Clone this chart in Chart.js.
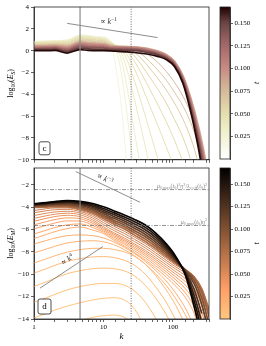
<!DOCTYPE html>
<html><head><meta charset="utf-8">
<script src="https://cdn.jsdelivr.net/npm/chart.js@4.4.1/dist/chart.umd.min.js"></script>
<style>
html,body{margin:0;padding:0;background:#fff;}
#wrap{position:relative;width:266px;height:346px;overflow:hidden;}
canvas{position:absolute;}
</style></head><body>
<div id="wrap">
<canvas id="cS" width="220" height="166" style="left:0;top:0"></canvas>
<canvas id="cM" width="220" height="186" style="left:0;top:160px"></canvas>
<canvas id="bS" width="56" height="166" style="left:210px;top:0"></canvas>
<canvas id="bM" width="56" height="186" style="left:210px;top:160px"></canvas>
</div>
<script>
// ---- data ----
var n = null;
var kMin = 1, kMax = 330, tMax = 0.168;

// panel c: log10(E_S) at these wavenumbers, one row per time
var kS = [1,1.5,2,3,4.6,6,8,10,12.5,15,18,22,28,36,46,60,80,105,140,180,230,290,340];
var tS = [0.020,0.026,0.031,0.036,0.041,0.046,0.051,0.056,0.062,0.068,0.076,0.086,0.098,0.111,0.124,0.138,0.152,0.166];
var esRows = [
  [0.85,0.90,0.93,1.00,1.45,1.40,1.30,1.25,0.90,-1.5,-5.0,-11.0,n,n,n,n,n,n,n,n,n,n,n],
  [0.82,0.87,0.90,0.96,1.41,1.36,1.26,1.21,0.87,0.20,-2.0,-6.0,-11.5,n,n,n,n,n,n,n,n,n,n],
  [0.80,0.85,0.88,0.93,1.37,1.32,1.22,1.18,0.84,0.40,-0.8,-3.5,-7.5,-11.5,n,n,n,n,n,n,n,n,n],
  [0.77,0.81,0.84,0.88,1.32,1.26,1.17,1.13,0.81,0.45,-0.2,-1.8,-4.5,-7.5,-10.5,n,n,n,n,n,n,n,n],
  [0.73,0.77,0.80,0.83,1.26,1.21,1.12,1.08,0.77,0.48,0.10,-0.9,-2.8,-5.0,-7.3,-9.8,-12.5,n,n,n,n,n,n],
  [0.70,0.74,0.77,0.78,1.21,1.15,1.07,1.03,0.73,0.48,0.22,-0.4,-1.7,-3.3,-5.0,-6.8,-8.8,-10.8,n,n,n,n,n],
  [0.65,0.69,0.72,0.72,1.14,1.08,1.00,0.96,0.69,0.47,0.30,-0.1,-1.0,-2.2,-3.5,-4.9,-6.5,-8.2,-10.2,n,n,n,n],
  [0.61,0.65,0.68,0.66,1.07,1.02,0.94,0.90,0.64,0.45,0.35,0.10,-0.5,-1.4,-2.4,-3.5,-4.8,-6.3,-8.0,-10.0,-12.5,n,n],
  [0.57,0.60,0.63,0.60,1.00,0.95,0.87,0.84,0.60,0.44,0.36,0.22,-0.15,-0.8,-1.6,-2.5,-3.6,-4.8,-6.3,-8.0,-10.2,-12.8,n],
  [0.53,0.56,0.58,0.54,0.94,0.88,0.81,0.78,0.55,0.42,0.37,0.30,0.08,-0.35,-1.0,-1.75,-2.7,-3.8,-5.1,-6.6,-8.6,-11.0,-13.5],
  [0.48,0.50,0.53,0.46,0.86,0.80,0.73,0.70,0.50,0.40,0.36,0.32,0.22,0.0,-0.45,-1.05,-1.9,-2.9,-4.2,-5.7,-7.7,-10.3,-13.0],
  [0.43,0.45,0.48,0.39,0.78,0.72,0.65,0.63,0.44,0.40,0.39,0.38,0.36,0.28,0.16,-0.02,-0.35,-0.95,-2.3,-4.3,-6.8,-9.8,-12.8],
  [0.37,0.39,0.41,0.30,0.68,0.62,0.56,0.54,0.38,0.35,0.34,0.33,0.30,0.22,0.10,-0.08,-0.42,-1.03,-2.42,-4.5,-7.1,-10.2,-13.3],
  [0.31,0.32,0.35,0.22,0.59,0.52,0.47,0.45,0.31,0.29,0.28,0.27,0.24,0.16,0.04,-0.15,-0.49,-1.11,-2.54,-4.7,-7.4,-10.6,-13.8],
  [0.24,0.25,0.27,0.12,0.48,0.41,0.36,0.35,0.24,0.22,0.21,0.20,0.17,0.09,-0.03,-0.22,-0.56,-1.19,-2.66,-4.9,-7.7,-11.0,-14.3],
  [0.17,0.18,0.20,0.02,0.37,0.30,0.26,0.25,0.16,0.14,0.13,0.12,0.09,0.01,-0.11,-0.30,-0.64,-1.27,-2.78,-5.1,-8.0,-11.4,-14.8],
  [0.09,0.09,0.11,-0.10,0.24,0.17,0.13,0.13,0.07,0.05,0.04,0.03,0.00,-0.08,-0.20,-0.39,-0.72,-1.35,-2.9,-5.35,-8.4,-11.9,n],
  [0.00,0.00,0.02,-0.22,0.10,0.03,0.00,0.00,-0.02,-0.05,-0.08,-0.12,-0.17,-0.25,-0.35,-0.52,-0.82,-1.45,-3.05,-5.6,-8.8,-12.5,n]
];

// panel d: log10(E_M)
var kM = [1,1.5,2,3,4.6,7,10,14,20,28,40,56,80,110,150,200,260,340];
var tM = [0.002,0.003,0.005,0.008,0.011,0.014,0.017,0.020,0.024,0.028,0.032,0.037,0.042,0.047,0.052,0.058,0.064,0.074,0.087,0.100,0.113,0.126,0.139,0.152,0.165];
var emRows = [
  [-15.6,-15.2,-14.9,-14.5,-14.15,-13.85,-13.7,-13.65,-13.85,-14.6,n,n,n,n,n,n,n,n],
  [-13.9,-13.5,-13.2,-12.85,-12.55,-12.3,-12.15,-12.1,-12.3,-13.1,-14.8,n,n,n,n,n,n,n],
  [-12.5,-12.1,-11.8,-11.4,-11.1,-10.9,-10.82,-10.82,-10.98,-11.5,-12.5,-13.9,-15.5,n,n,n,n,n],
  [-11.1,-10.68,-10.35,-9.95,-9.68,-9.5,-9.45,-9.5,-9.7,-10.15,-11.0,-12.1,-13.6,-15.2,n,n,n,n],
  [-9.9,-9.5,-9.2,-8.85,-8.6,-8.45,-8.42,-8.5,-8.75,-9.2,-10.0,-11.1,-12.5,-14.1,n,n,n,n],
  [-9.0,-8.62,-8.35,-8.02,-7.8,-7.68,-7.68,-7.78,-8.0,-8.4,-9.1,-10.1,-11.4,-12.8,-14.5,n,n,n],
  [-8.1,-7.75,-7.5,-7.2,-7.05,-7.0,-7.1,-7.35,-7.8,-8.35,-9.1,-9.95,-11.0,-12.2,-13.6,-15.2,n,n],
  [-7.3,-6.98,-6.76,-6.55,-6.48,-6.55,-6.75,-7.1,-7.6,-8.15,-8.85,-9.65,-10.6,-11.7,-13.0,-14.6,n,n],
  [-6.8,-6.45,-6.19,-5.92,-5.78,-6.05,-6.37,-6.95,-7.48,-8.07,-8.72,-9.44,-10.25,-11.08,-12.05,-13.45,-15.7,n],
  [-6.4,-6.06,-5.82,-5.58,-5.5,-5.82,-6.24,-6.8,-7.32,-7.9,-8.53,-9.23,-10.0,-10.78,-11.65,-12.9,-15.1,n],
  [-5.94,-5.63,-5.42,-5.23,-5.24,-5.62,-6.12,-6.66,-7.17,-7.73,-8.35,-9.03,-9.78,-10.5,-11.28,-12.4,-14.5,n],
  [-5.58,-5.3,-5.11,-4.96,-5.03,-5.45,-6.0,-6.53,-7.03,-7.58,-8.18,-8.84,-9.56,-10.25,-10.95,-11.95,-13.9,n],
  [-5.26,-5.0,-4.84,-4.73,-4.85,-5.3,-5.88,-6.4,-6.9,-7.43,-8.02,-8.66,-9.36,-10.0,-10.65,-11.55,-13.4,-16.0],
  [-5.0,-4.77,-4.63,-4.54,-4.68,-5.14,-5.75,-6.28,-6.76,-7.29,-7.86,-8.48,-9.16,-9.78,-10.38,-11.2,-12.9,-15.5],
  [-4.75,-4.54,-4.43,-4.37,-4.52,-4.98,-5.56,-6.08,-6.56,-7.08,-7.65,-8.27,-8.95,-9.55,-10.1,-10.85,-12.3,-14.7],
  [-4.5,-4.32,-4.23,-4.2,-4.38,-4.82,-5.38,-5.89,-6.36,-6.88,-7.45,-8.07,-8.76,-9.35,-9.87,-10.55,-11.8,-14.1],
  [-4.3,-4.14,-4.07,-4.07,-4.27,-4.68,-5.2,-5.7,-6.16,-6.68,-7.25,-7.88,-8.58,-9.18,-9.7,-10.3,-11.4,-13.6],
  [-4.03,-4.0,-3.97,-3.98,-4.18,-4.55,-5.03,-5.51,-5.96,-6.5,-7.07,-7.7,-8.42,-9.05,-9.6,-10.2,-11.3,-13.4],
  [-3.96,-3.92,-3.88,-3.88,-4.06,-4.41,-4.87,-5.34,-5.78,-6.3,-6.86,-7.5,-8.26,-8.96,-9.58,-10.3,-11.6,-14.0],
  [-3.9,-3.85,-3.8,-3.79,-3.95,-4.28,-4.72,-5.17,-5.6,-6.1,-6.65,-7.3,-8.1,-8.88,-9.6,-10.5,-12.1,-14.8],
  [-3.85,-3.79,-3.73,-3.71,-3.85,-4.15,-4.57,-5.0,-5.42,-5.9,-6.44,-7.1,-7.94,-8.8,-9.65,-10.8,-12.7,-15.6],
  [-3.8,-3.73,-3.66,-3.63,-3.75,-4.03,-4.42,-4.83,-5.24,-5.7,-6.23,-6.9,-7.78,-8.72,-9.75,-11.3,-13.5,n],
  [-3.76,-3.68,-3.6,-3.56,-3.66,-3.91,-4.27,-4.66,-5.06,-5.5,-6.02,-6.7,-7.62,-8.62,-9.85,-11.8,-14.3,n],
  [-3.73,-3.64,-3.55,-3.49,-3.57,-3.79,-4.12,-4.49,-4.88,-5.3,-5.81,-6.5,-7.45,-8.52,-9.95,-12.3,-15.0,n],
  [-3.7,-3.6,-3.5,-3.42,-3.48,-3.67,-3.97,-4.32,-4.7,-5.1,-5.6,-6.3,-7.28,-8.42,-10.05,-12.8,-15.8,n]
];

// reference marks
var kSolid = 4.6, kDotted = 25;
var hLinesM = [-2.43, -5.64];
var slopeS_k = [3, 60], slopeS_v = [2.5, 1.2];            // k^-1
var slopeM1_k = [4.0, 33.5], slopeM1_v = [-0.82, -3.56];  // k^-3
var slopeM2_k = [1.22, 9.8], slopeM2_v = [-11.24, -7.52]; // k^4

var yTicksS = [-10,-8,-6,-4,-2,0,2,4];
var yTicksM = [-14,-12,-10,-8,-6,-4,-2];
var cbTicks = [0.025,0.05,0.075,0.1,0.125,0.15];

// ---- colours ----
var pinkStops = [[0,[30,0,0]],[0.1,[105,66,66]],[0.2,[145,93,93]],[0.3,[176,114,114]],[0.4,[198,139,132]],
  [0.5,[208,171,147]],[0.6,[218,198,161]],[0.7,[228,222,174]],[0.8,[237,237,198]],[0.9,[246,246,228]],[1,[255,255,255]]];
function pinkR(s) {
  var x = Math.min(1, Math.max(0, 1 - s));
  for (var i = 1; i < pinkStops.length; i++) {
    if (x <= pinkStops[i][0]) {
      var a = pinkStops[i-1], b = pinkStops[i], f = (x - a[0]) / (b[0] - a[0]);
      var c = a[1].map(function(v, j){ return Math.round(v + f * (b[1][j] - v)); });
      return 'rgb(' + c.join(',') + ')';
    }
  }
  return '#fff';
}
function copperR(s) {
  var x = Math.min(1, Math.max(0, 1 - s));
  return 'rgb(' + Math.round(Math.min(255, 318.75 * x)) + ',' + Math.round(199.2 * x) + ',' + Math.round(126.9 * x) + ')';
}

// ---- little TeX-ish text helper: _{sub} ^{sup}, ~ toggles italic ----
var FAM = '"Liberation Serif", "DejaVu Serif", serif';
function parseTex(s) {
  var out = [], it = false, i = 0;
  while (i < s.length) {
    var c = s[i];
    if (c === '~') { it = !it; i++; continue; }
    if (c === '_' || c === '^') {
      var mode = c === '_' ? 1 : 2, body;
      i++;
      if (s[i] === '{') { var j = s.indexOf('}', i); body = s.slice(i + 1, j); i = j + 1; }
      else { body = s[i]; i++; }
      var bit = it, buf = '';
      for (var q = 0; q < body.length; q++) {
        if (body[q] === '~') { if (buf) out.push({t: buf, m: mode, it: bit}); buf = ''; bit = !bit; }
        else buf += body[q];
      }
      if (buf) out.push({t: buf, m: mode, it: bit});
      continue;
    }
    out.push({t: c, m: 0, it: it}); i++;
  }
  return out;
}
function drawTex(ctx, str, x, y, size, align, vmid, color) {
  var parts = parseTex(str), w = 0;
  function fontOf(p) { return (p.it ? 'italic ' : '') + (p.m ? size * 0.7 : size) + 'px ' + FAM; }
  parts.forEach(function(p){ ctx.font = fontOf(p); p.w = ctx.measureText(p.t).width; w += p.w; });
  var x0 = align === 'center' ? x - w / 2 : (align === 'right' ? x - w : x);
  var base = vmid ? y + size * 0.33 : y;
  ctx.fillStyle = color || '#000';
  ctx.textAlign = 'left';
  ctx.textBaseline = 'alphabetic';
  parts.forEach(function(p){
    ctx.font = fontOf(p);
    var dy = p.m === 1 ? size * 0.25 : (p.m === 2 ? -size * 0.38 : 0);
    ctx.fillText(p.t, x0, base + dy);
    x0 += p.w;
  });
}
function rotatedTex(ctx, str, x, y, ang, size, color) {
  ctx.save(); ctx.translate(x, y); ctx.rotate(ang);
  drawTex(ctx, str, 0, 0, size, 'center', true, color);
  ctx.restore();
}
function labelBox(ctx, x, y, w, h, txt) {
  ctx.save();
  ctx.beginPath();
  ctx.roundRect(x, y, w, h, 2);
  ctx.fillStyle = '#fff'; ctx.fill();
  ctx.lineWidth = 0.8; ctx.strokeStyle = '#222'; ctx.stroke();
  drawTex(ctx, txt, x + w / 2, y + h / 2, 9, 'center', true, '#000');
  ctx.restore();
}

Chart.defaults.font.family = FAM;
var tickFont = {family: FAM, size: 7};
function minusFmt(v) { return (v < 0 ? '\u2212' : '') + Math.abs(v); }
function isDecade(v) { var l = Math.log10(v); return Math.abs(l - Math.round(l)) < 1e-6; }

function lineSet(ks, vs, color, width, dash) {
  return {
    data: ks.map(function(k, j){ return {x: k, y: vs[j]}; }),
    borderColor: color, borderWidth: width, borderDash: dash || [],
    cubicInterpolationMode: 'default', tension: 0, order: -1
  };
}

function makeMain(id, ks, ts, rows, cmap, yr, yTicks, cfg) {
  var ds = rows.map(function(row, i){
    var pts = [];
    row.forEach(function(v, j){ if (v !== null) pts.push({x: ks[j], y: v}); });
    return {
      data: pts,
      borderColor: cmap(ts[i] / tMax),
      borderWidth: ts[i] > cfg.bandT ? 1.7 : 1.0,
      order: rows.length - i
    };
  });
  ds.push(lineSet([kSolid, kSolid], yr, '#8a8a8a', 1.2));
  ds.push(lineSet([kDotted, kDotted], yr, '#444', 0.8, [1, 1.5]));
  cfg.extra.forEach(function(e){ ds.push(e); });

  var decor = {
    id: 'decor' + id,
    afterDatasetsDraw: function(chart) {
      var ctx = chart.ctx, ca = chart.chartArea;
      ctx.save();
      ctx.lineWidth = 0.8; ctx.strokeStyle = '#222';
      ctx.strokeRect(ca.left, ca.top, ca.right - ca.left, ca.bottom - ca.top);
      ctx.restore();
      cfg.annot(chart, ctx, ca);
    },
    afterDraw: function(chart) {
      var ca = chart.chartArea, ctx = chart.ctx;
      ctx.save(); ctx.translate(10, (ca.top + ca.bottom) / 2); ctx.rotate(-Math.PI / 2);
      drawTex(ctx, cfg.yTitle, 0, 0, 8, 'center', true, '#000');
      ctx.restore();
    }
  };

  return new Chart(document.getElementById(id), {
    type: 'line',
    data: {datasets: ds},
    options: {
      responsive: false, animation: false, events: [],
      layout: {padding: {left: 0, right: 11, top: cfg.padTop, bottom: 0}},
      plugins: {legend: {display: false}, tooltip: {enabled: false}},
      elements: {point: {radius: 0}, line: {cubicInterpolationMode: 'monotone', borderCapStyle: 'butt'}},
      scales: {
        x: {
          type: 'logarithmic', min: kMin, max: kMax,
          afterFit: function(s){ s.height = cfg.xh; },
          ticks: {autoSkip: false, maxRotation: 0, minRotation: 0, padding: 1, color: '#000', font: tickFont,
            callback: function(v){ return cfg.xLabels && isDecade(v) ? String(Math.round(v)) : ''; }},
          grid: {drawOnChartArea: false, drawTicks: true, tickLength: 3, tickColor: '#222', tickWidth: 0.7},
          border: {color: '#222', width: 0.8},
          title: cfg.xLabels ? {display: true, text: 'k', color: '#000',
            font: {family: FAM, size: 9, style: 'italic'}, padding: {top: 0, bottom: 4}} : {display: false}
        },
        y: {
          type: 'linear', min: yr[0], max: yr[1],
          afterFit: function(s){ s.width = 34; },
          afterBuildTicks: function(s){ s.ticks = yTicks.map(function(v){ return {value: v}; }); },
          ticks: {padding: 2, color: '#000', font: tickFont, callback: minusFmt},
          grid: {drawOnChartArea: false, drawTicks: true, tickLength: 3, tickColor: '#222', tickWidth: 0.7},
          border: {color: '#222', width: 0.8}
        }
      }
    },
    plugins: [decor]
  });
}

function makeBar(id, cmap, padTop, padBottom) {
  return new Chart(document.getElementById(id), {
    type: 'scatter',
    data: {datasets: []},
    options: {
      responsive: false, animation: false, events: [],
      layout: {padding: {left: 10, right: 0, top: padTop, bottom: padBottom}},
      plugins: {legend: {display: false}, tooltip: {enabled: false}},
      scales: {
        x: {display: false, min: 0, max: 1},
        y: {
          position: 'right', min: 0, max: tMax,
          afterFit: function(s){ s.width = 36; },
          afterBuildTicks: function(s){ s.ticks = cbTicks.map(function(v){ return {value: v}; }); },
          ticks: {padding: 1.5, color: '#000', font: tickFont, callback: function(v){ return v.toFixed(3); }},
          grid: {drawOnChartArea: false, drawTicks: true, tickLength: 3, tickColor: '#222', tickWidth: 0.7},
          border: {color: '#222', width: 0.8}
        }
      }
    },
    plugins: [{
      id: 'cb' + id,
      beforeDatasetsDraw: function(chart) {
        var ctx = chart.ctx, ca = chart.chartArea;
        var g = ctx.createLinearGradient(0, ca.bottom, 0, ca.top);
        for (var i = 0; i <= 20; i++) g.addColorStop(i / 20, cmap(i / 20));
        ctx.fillStyle = g;
        ctx.fillRect(ca.left, ca.top, ca.right - ca.left, ca.bottom - ca.top);
      },
      afterDraw: function(chart) {
        var ctx = chart.ctx, ca = chart.chartArea;
        ctx.save();
        ctx.lineWidth = 0.8; ctx.strokeStyle = '#222';
        ctx.strokeRect(ca.left, ca.top, ca.right - ca.left, ca.bottom - ca.top);
        ctx.translate(46, (ca.top + ca.bottom) / 2); ctx.rotate(-Math.PI / 2);
        drawTex(ctx, '~t~', 0, 0, 8, 'center', true, '#000');
        ctx.restore();
      }
    }]
  });
}

function px(chart, k, v) { return [chart.scales.x.getPixelForValue(k), chart.scales.y.getPixelForValue(v)]; }
function lineAngle(chart, ks, vs) {
  var a = px(chart, ks[0], vs[0]), b = px(chart, ks[1], vs[1]);
  return Math.atan2(b[1] - a[1], b[0] - a[0]);
}

// panel c
makeMain('cS', kS, tS, esRows, pinkR, [-10, 4], yTicksS, {
  bandT: 0.08, padTop: 7, xh: 6, xLabels: false,
  yTitle: 'log_{10}(~E~_{~S~})',
  extra: [lineSet(slopeS_k, slopeS_v, '#808080', 0.9)],
  annot: function(chart, ctx, ca) {
    var p = px(chart, 8.9, 2.4);
    drawTex(ctx, '\u221D ~k~^{\u22121}', p[0], p[1], 8, 'left', false, '#333');
    labelBox(ctx, ca.left + 5, ca.bottom - 18, 11, 13, 'c');
  }
});

// panel d
makeMain('cM', kM, tM, emRows, copperR, [-14, -0.5], yTicksM, {
  bandT: 0.07, padTop: 8, xh: 27, xLabels: true,
  yTitle: 'log_{10}(~E~_{~M~})',
  extra: [
    lineSet([kMin, kMax], [hLinesM[0], hLinesM[0]], '#777', 0.8, [4, 1.5, 1, 1.5]),
    lineSet([kMin, kMax], [hLinesM[1], hLinesM[1]], '#777', 0.8, [4, 1.5, 1, 1.5]),
    lineSet(slopeM1_k, slopeM1_v, '#808080', 0.9),
    lineSet(slopeM2_k, slopeM2_v, '#808080', 0.9)
  ],
  annot: function(chart, ctx, ca) {
    var p1 = px(chart, 10.5, -1.45);
    rotatedTex(ctx, '\u221D ~k~^{\u22123}', p1[0], p1[1], lineAngle(chart, slopeM1_k, slopeM1_v), 8, '#333');
    var p2 = px(chart, 3.0, -8.68);
    rotatedTex(ctx, '\u221D ~k~^{4}', p2[0], p2[1], lineAngle(chart, slopeM2_k, slopeM2_v), 8, '#333');
    var h0 = chart.scales.y.getPixelForValue(hLinesM[0]);
    var h1 = chart.scales.y.getPixelForValue(hLinesM[1]);
    drawTex(ctx, '~\u03BC~_{0,max}(~t~_{0})^{2}~\u03B7~^{2}/~\u03BB~_{~\u03BD~,eff}(~t~_{0})^{2}', ca.right - 2, h0 - 1.8, 6, 'right', false, '#888');
    drawTex(ctx, '~\u03BC~_{0,max}(~t~_{0})~\u03B7~^{2}', ca.right - 2, h1 - 1.8, 6, 'right', false, '#888');
    labelBox(ctx, ca.left + 4, ca.bottom - 20, 13, 15, 'd');
  }
});

makeBar('bS', pinkR, 7, 7);
makeBar('bM', copperR, 8, 27);
</script>
</body></html>
